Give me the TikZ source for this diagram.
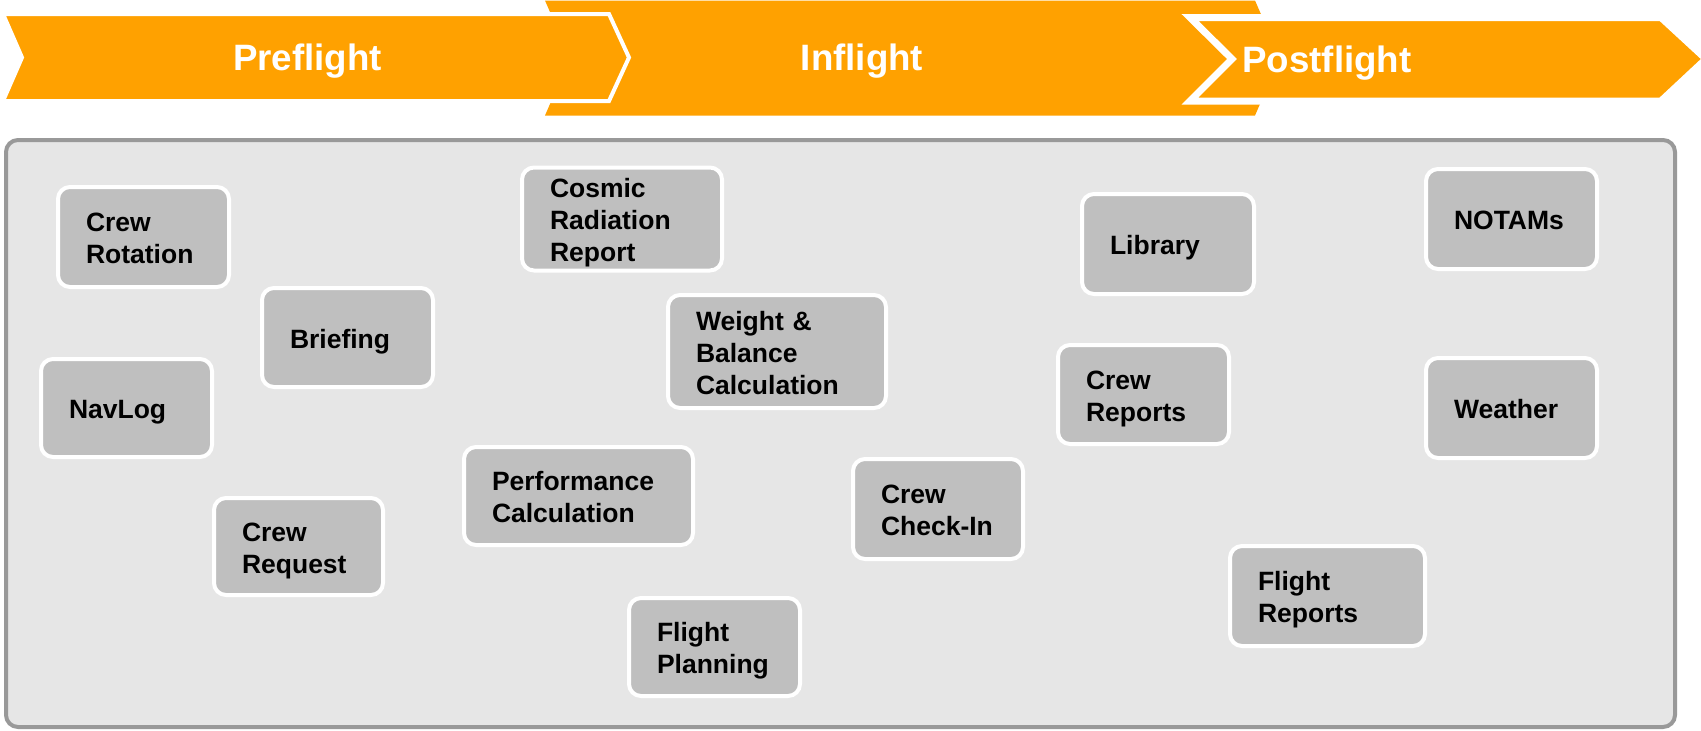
\documentclass[tikz,border=0pt]{standalone}
\usepackage{fontspec}
\setmainfont{Liberation Sans}
\definecolor{orng}{RGB}{255,161,0}
\definecolor{boxgray}{RGB}{191,191,191}
\definecolor{panelfill}{RGB}{230,230,230}
\definecolor{paneledge}{RGB}{153,153,153}
\newcommand\topst{\rule{0pt}{27pt}}
\newcommand\botst{\rule[-6pt]{0pt}{6pt}}
\begin{document}
\begin{tikzpicture}[x=1pt,y=-1pt,
 chev/.style={fill=orng, draw=white, line width=4pt, line join=miter},
 phase/.style={text=white, font=\fontsize{36.7}{44}\selectfont\bfseries, anchor=base, inner sep=0pt},
 appbox/.style={draw=white, line width=4pt, fill=boxgray, rounded corners=12pt, inner xsep=28pt, inner ysep=3pt, align=left, font=\fontsize{26.5}{32}\selectfont\bfseries, text=black}]
\useasboundingbox (0,0) rectangle (1701,731);
% phase chevrons
\fill[orng] (545,0.5) -- (1255,0.5) -- (1280,58) -- (1255,115.5) -- (545,115.5) -- (570,58) -- cycle;
\draw[chev] (3,14) -- (609,14) -- (629,57.5) -- (609,101) -- (3,101) -- (22,57.5) -- cycle;
\draw[chev, line width=7pt] (1190,17.5) -- (1661,17.5) -- (1706,59) -- (1661,101) -- (1190,101) -- (1232,59) -- cycle;
\node[phase] (pre) at (307.5,70.5) {Preflight};
\node[phase] (in) at (862,70.5) {Inflight};
\node[phase] (post) at (1327,72) {Postflight};
% panel
\draw[draw=paneledge, fill=panelfill, line width=4pt, rounded corners=12pt] (6,140) rectangle (1675,727);
% application boxes
\node[appbox, text width=115pt, minimum height=100pt] (crewrot) at (143.5,237) {\topst Crew\\Rotation\botst};
\node[appbox, text width=115pt, minimum height=99pt] (briefing) at (347.5,337.5) {\topst Briefing\botst};
\node[appbox, text width=115pt, minimum height=98pt] (navlog) at (126.5,408) {\topst NavLog\botst};
\node[appbox, text width=113pt, minimum height=97pt] (crewreq) at (298.5,546.5) {\topst Crew\\Request\botst};
\node[appbox, text width=144pt, minimum height=100pt] (cosmic) at (622,219) {\topst Cosmic\\Radiation\\Report\botst};
\node[appbox, text width=162pt, minimum height=113pt] (weight) at (777,351.5) {\topst Weight \&\\Balance\\Calculation\botst};
\node[appbox, text width=173pt, minimum height=98pt] (perf) at (578.5,496) {\topst Performance\\Calculation\botst};
\node[appbox, text width=114pt, minimum height=100pt] (checkin) at (938,509) {\topst Crew\\Check-In\botst};
\node[appbox, text width=115pt, minimum height=98pt] (fplan) at (714.5,647) {\topst Flight\\Planning\botst};
\node[appbox, text width=116pt, minimum height=100pt] (library) at (1168,244) {\topst Library\botst};
\node[appbox, text width=115pt, minimum height=99pt] (crewrep) at (1143.5,394.5) {\topst Crew\\Reports\botst};
\node[appbox, text width=115pt, minimum height=100pt] (notams) at (1511.5,219) {\topst NOTAMs\botst};
\node[appbox, text width=115pt, minimum height=100pt] (weather) at (1511.5,408) {\topst Weather\botst};
\node[appbox, text width=139pt, minimum height=100pt] (freports) at (1327.5,596) {\topst Flight\\Reports\botst};
\end{tikzpicture}
\end{document}
